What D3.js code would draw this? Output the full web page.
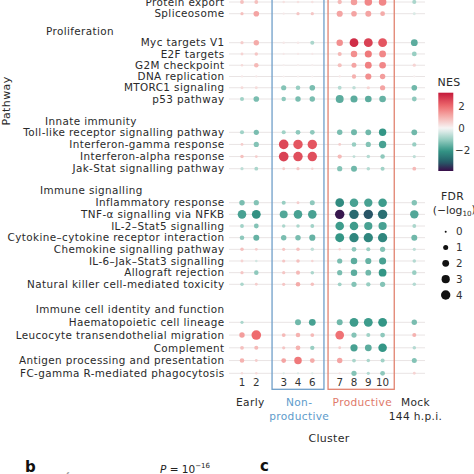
<!DOCTYPE html>
<html><head><meta charset="utf-8">
<script src="https://cdn.jsdelivr.net/npm/d3@7"></script>
<style>
body{margin:0;background:#fff;}
svg{display:block;font-family:"DejaVu Sans",sans-serif;}
</style></head><body>
<svg id="chart" width="474" height="474"></svg>
<script>
// ---------------- data ----------------
const clusters = ["1","2","3","4","6","7","8","9","10","Mock"];
const facetNames = ["Early","Non-productive","Productive","Mock"];
const facetOfCluster = ["Early","Early","Non-productive","Non-productive","Non-productive","Productive","Productive","Productive","Productive","Mock"];
const groupNames = ["", "Proliferation", "Innate immunity", "Immune signalling", "Immune cell identity and function"];
const groupPathways = [
  ["Protein export","Spliceosome"],
  ["Myc targets V1","E2F targets","G2M checkpoint","DNA replication","MTORC1 signaling","p53 pathway"],
  ["Toll-like receptor signalling pathway","Interferon-gamma response","Interferon-alpha response","Jak-Stat signalling pathway"],
  ["Inflammatory response","TNF-\u03b1 signalling via NFKB","IL-2\u2013Stat5 signalling","Cytokine\u2013cytokine receptor interaction","Chemokine signalling pathway","IL-6\u2013Jak\u2013Stat3 signalling","Allograft rejection","Natural killer cell-mediated toxicity"],
  ["Haematopoietic cell lineage","Leucocyte transendothelial migration","Complement","Antigen processing and presentation","FC-gamma R-mediated phagocytosis"]
];
// NES per pathway, one value per cluster (order of `clusters`)
const nesValues = [
  [0.8,0.8,0.3,0.3,0.3,0.9,1.3,1.6,1.6,-0.8],
  [0.8,1.2,0.2,0.7,0.7,1.2,1.2,1.2,1.1,-0.3],
  [0.6,1.1,0.2,0.2,-0.8,1.5,2.9,2.6,2.3,-1.6],
  [0.5,0.7,0.2,0.2,0.2,0.9,1.5,1.8,1.6,-1.0],
  [0.4,0.9,0.1,0.1,0.1,0.8,1.2,1.7,1.6,0.5],
  [0.2,0.2,0.1,0.1,0.1,0.2,1.0,1.5,1.3,0.1],
  [0.4,0.4,-1.2,-1.0,-1.3,-0.7,-0.6,0.5,1.2,-1.4],
  [-0.9,-1.3,-1.1,-1.3,-1.3,-1.6,-1.6,-1.6,-1.5,-1.1],
  [-0.9,-1.3,-0.9,-1.1,-1.1,-1.3,-1.4,-1.4,-2.0,-1.4],
  [0.6,-1.2,2.5,2.3,2.3,0.6,-1.0,-1.2,-1.8,-1.0],
  [0.8,0.6,2.6,2.4,2.4,0.9,-0.6,-0.7,-1.1,-0.6],
  [-0.6,-0.8,0.6,0.7,0.5,-1.2,-1.4,-0.7,-0.9,0.9],
  [-1.3,-1.2,-1.0,0.6,-1.1,-2.2,-1.8,-1.8,-1.9,-1.2],
  [-1.8,-2.1,-1.7,-1.8,-1.8,-3.7,-2.8,-3.1,-2.7,-1.7],
  [-0.9,-1.2,-0.8,-0.8,-0.9,-1.9,-1.9,-1.8,-1.8,-0.8],
  [-1.1,-1.5,-1.3,-1.3,-1.5,-2.0,-2.3,-2.3,-2.3,-1.4],
  [0.8,0.6,0.7,0.8,-0.6,0.5,-1.1,-1.0,-1.2,-0.6],
  [0.5,-0.4,0.7,0.8,0.5,-1.3,-1.6,-1.5,-1.8,-0.7],
  [0.7,-1.1,0.7,0.9,-0.8,-1.3,-1.6,-1.4,-2.0,-1.0],
  [-0.8,0.6,0.7,1.1,0.8,-0.9,-1.2,-1.0,-1.2,-0.7],
  [-0.8,null,null,-1.4,-1.8,-1.4,-1.9,-1.9,-2.0,-1.3],
  [1.3,2.0,0.9,1.0,0.9,1.9,-1.2,-0.9,-1.1,1.0],
  [0.8,0.9,0.7,1.0,-1.0,0.6,-1.8,-1.6,-2.0,-0.7],
  [1.0,0.6,1.2,1.8,1.1,1.2,-0.8,-0.8,-0.9,-1.2],
  [0.4,0.4,-0.3,-0.3,-0.3,0.3,-1.2,-0.7,-1.1,0.5]
];
// FDR (-log10) per pathway
const fdrValues = [
  [0.5,0.5,0.1,0.1,0.1,0.7,1.8,2.5,2.5,0.6],
  [0.3,1.3,0.05,0.3,0.3,1.6,1.3,1.5,0.9,0.2],
  [0.3,1.2,0.1,0.1,0.6,1.8,3.5,3.5,3.5,2.0],
  [0.2,0.4,0.05,0.05,0.05,0.6,1.8,2.2,2.0,0.9],
  [0.1,0.8,0.05,0.05,0.05,0.6,1.0,2.0,1.9,0.3],
  [0.05,0.05,0.02,0.02,0.02,0.05,0.7,1.6,1.2,0.05],
  [0.2,0.2,1.1,0.8,1.3,0.5,0.4,0.3,1.1,1.3],
  [0.6,1.3,0.8,1.2,1.2,2.8,2.2,1.9,1.9,0.9],
  [0.6,1.1,0.6,0.9,0.9,1.2,1.5,1.4,2.4,1.4],
  [0.2,1.1,4.2,4.0,4.0,0.2,0.8,1.1,2.4,0.7],
  [0.4,0.2,4.3,4.0,4.0,0.7,0.2,0.4,0.8,0.3],
  [0.3,0.5,0.2,0.3,0.1,1.1,1.5,0.4,0.6,0.5],
  [1.2,1.1,0.6,0.2,1.0,3.4,3.3,3.1,3.3,1.2],
  [3.3,3.5,2.8,3.3,3.3,4.0,4.0,4.0,4.0,3.2],
  [0.5,0.9,0.4,0.4,0.5,3.3,3.3,3.0,3.0,0.5],
  [0.8,1.5,1.2,1.2,1.6,3.6,3.9,3.9,3.9,1.5],
  [0.4,0.2,0.3,0.4,0.4,0.1,0.9,0.6,1.1,0.3],
  [0.2,0.1,0.3,0.4,0.1,1.1,1.8,1.6,2.2,0.4],
  [0.3,0.8,0.3,0.6,0.4,1.1,1.8,1.4,2.7,0.8],
  [0.4,0.2,0.3,0.8,0.4,0.5,1.1,0.7,1.1,0.4],
  [0.3,null,null,1.5,2.0,1.5,3.5,3.5,3.5,1.2],
  [1.2,4.2,0.5,0.8,0.5,3.4,1.1,0.6,0.9,0.6],
  [0.5,0.6,0.3,0.9,0.7,0.2,2.3,2.0,3.3,0.4],
  [0.8,0.2,0.9,2.5,0.9,1.2,0.5,0.4,0.6,1.0],
  [0.1,0.1,0.05,0.05,0.05,0.05,1.1,0.3,0.9,0.2]
];
const nesTicks = [2, 0, -2];
const fdrTicks = [0, 1, 2, 3, 4];

// ---------------- layout ----------------
const svg = d3.select("#chart");
const colW = 14.3;
const facetGaps = [13.1, 13.1, 17.4];
const plotLeft = 234.85;
const facetCols = facetNames.map(f => clusters.filter((c, i) => facetOfCluster[i] === f));
const facetStart = [];
let cur = plotLeft;
facetNames.forEach((f, i) => { facetStart.push(cur); cur += facetCols[i].length * colW + (facetGaps[i] || 0); });
const xFacet = facetNames.map((f, i) => d3.scaleBand().domain(facetCols[i]).range([facetStart[i], facetStart[i] + facetCols[i].length * colW]));
const xPos = (c) => { const fi = facetNames.indexOf(facetOfCluster[clusters.indexOf(c)]); return xFacet[fi](c) + xFacet[fi].bandwidth() / 2; };

const groupRange = [[2, 13.7], [42.7, 99], [132.3, 168.7], [202.7, 284.3], [322.3, 373.3]];
const yGroup = groupPathways.map((p, i) => d3.scalePoint().domain(p).range(groupRange[i]));

const color = d3.scaleLinear()
  .domain([-3.8, -3.0, -2.0, -1.0, 0, 1.0, 2.0, 3.2])
  .range(["#3a0d4a", "#255f6a", "#349686", "#98cec2", "#f6f6f6", "#f5b2b0", "#ee6b6e", "#c4183a"])
  .clamp(true);
const area = d3.scaleLinear().domain([0, 4]).range([1.0, 22.1]);
const rSize = v => Math.sqrt(Math.max(0.3, area(v)));

const lineX0 = 229, lineX1 = 425;
const labelFont = 10.4, labelSpacing = 0.4;

// row lines
groupPathways.forEach((paths, gi) => {
  paths.forEach(p => {
    svg.append("line").attr("x1", lineX0).attr("x2", lineX1)
      .attr("y1", yGroup[gi](p)).attr("y2", yGroup[gi](p))
      .attr("stroke", "#e9e4e4").attr("stroke-width", 1);
  });
});

// boxes around Non-productive and Productive
const boxColor = {"Non-productive": "#6f9fc9", "Productive": "#e2826f"};
["Non-productive", "Productive"].forEach(f => {
  const fi = facetNames.indexOf(f);
  const r = xFacet[fi].range();
  svg.append("rect").attr("x", r[0] - 4.5).attr("y", -5)
    .attr("width", r[1] - r[0] + 9).attr("height", 389.3 + 5)
    .attr("fill", "none").attr("stroke", boxColor[f]).attr("stroke-width", 1.3);
});

// dots
let rowIdx = 0;
groupPathways.forEach((paths, gi) => {
  paths.forEach(p => {
    const nr = nesValues[rowIdx], fr = fdrValues[rowIdx];
    clusters.forEach((c, ci) => {
      if (nr[ci] === null) return;
      svg.append("circle").attr("cx", xPos(c)).attr("cy", yGroup[gi](p))
        .attr("r", rSize(fr[ci])).attr("fill", color(nr[ci]));
    });
    rowIdx++;
  });
});

// y labels
const labelX = 224.5;
groupPathways.forEach((paths, gi) => {
  paths.forEach(p => {
    svg.append("text").attr("x", labelX).attr("y", yGroup[gi](p)).attr("dy", "0.36em")
      .attr("text-anchor", "end").attr("font-size", labelFont).attr("letter-spacing", labelSpacing)
      .attr("fill", "#2a2a2a").text(p);
  });
});
// group headers
const headerPos = [null, {x: 46, a: "start"}, {x: 45, a: "start"}, {x: 40, a: "start"}, {x: 224.5, a: "end"}];
const headerOffset = [0, 11.7, 11.3, 12.7, 13.3];
groupNames.forEach((g, gi) => {
  if (!g) return;
  svg.append("text").attr("x", headerPos[gi].x).attr("y", groupRange[gi][0] - headerOffset[gi]).attr("dy", "0.36em")
    .attr("text-anchor", headerPos[gi].a).attr("font-size", labelFont).attr("letter-spacing", labelSpacing)
    .attr("fill", "#2a2a2a").text(g);
});
// y title
svg.append("text").attr("transform", "translate(10,101) rotate(-90)").attr("text-anchor", "middle")
  .attr("font-size", 11).attr("letter-spacing", 0.4).attr("fill", "#2a2a2a").text("Pathway");

// cluster numbers
clusters.forEach(c => {
  if (c === "Mock") return;
  svg.append("text").attr("x", xPos(c)).attr("y", 382.7).attr("dy", "0.36em")
    .attr("text-anchor", "middle").attr("font-size", 10.3).attr("fill", "#333").text(c);
});
// facet labels
const facetLabel = {"Early": ["Early"], "Non-productive": ["Non-", "productive"], "Productive": ["Productive"], "Mock": ["Mock", "144 h.p.i."]};
const facetColor = {"Early": "#2a2a2a", "Non-productive": "#5d9bcb", "Productive": "#e0796a", "Mock": "#2a2a2a"};
facetNames.forEach((f, fi) => {
  const r = xFacet[fi].range();
  const cx = (r[0] + r[1]) / 2 + 1.2;
  facetLabel[f].forEach((t, li) => {
    svg.append("text").attr("x", cx).attr("y", 401.7 + li * 14.6).attr("dy", "0.36em")
      .attr("text-anchor", "middle").attr("font-size", 10.6).attr("letter-spacing", 0.35)
      .attr("fill", facetColor[f]).text(t);
  });
});
svg.append("text").attr("x", 329).attr("y", 437.7).attr("dy", "0.36em").attr("text-anchor", "middle")
  .attr("font-size", 11).attr("letter-spacing", 0.3).attr("fill", "#2a2a2a").text("Cluster");

// NES legend
const legX = 438.3, barW = 15, barTop = 92.7, barBot = 171;
const nesLeg = d3.scaleLinear().domain([3.19, -3.82]).range([barTop, barBot]);
const defs = svg.append("defs");
const grad = defs.append("linearGradient").attr("id", "nesg").attr("x1", 0).attr("y1", 0).attr("x2", 0).attr("y2", 1);
d3.range(0, 1.0001, 0.05).forEach(t => {
  const v = nesLeg.invert(barTop + t * (barBot - barTop));
  grad.append("stop").attr("offset", t).attr("stop-color", color(v));
});
svg.append("rect").attr("x", legX).attr("y", barTop).attr("width", barW).attr("height", barBot - barTop).attr("fill", "url(#nesg)");
svg.append("text").attr("x", 449).attr("y", 81.7).attr("dy", "0.36em").attr("text-anchor", "middle")
  .attr("font-size", 11).attr("letter-spacing", 0.3).attr("fill", "#2a2a2a").text("NES");
nesTicks.forEach(t => {
  svg.append("text").attr("x", t < 0 ? 455 : 458.3).attr("y", nesLeg(t)).attr("dy", "0.36em")
    .attr("font-size", 10.3).attr("fill", "#333").text(t < 0 ? "\u2212" + Math.abs(t) : t);
});

// FDR legend
svg.append("text").attr("x", 452.5).attr("y", 196).attr("dy", "0.36em").attr("text-anchor", "middle")
  .attr("font-size", 10.8).attr("letter-spacing", 0.3).attr("fill", "#2a2a2a").text("FDR");
const ft = svg.append("text").attr("x", 432.7).attr("y", 210).attr("dy", "0.36em")
  .attr("font-size", 10.8).attr("fill", "#2a2a2a");
ft.append("tspan").text("(\u2212log");
ft.append("tspan").attr("font-size", 7.2).attr("dy", "0.3em").text("10");
ft.append("tspan").attr("dy", "-0.3em").text(")");
const fdrLeg = d3.scalePoint().domain(fdrTicks).range([231.7, 295]);
fdrTicks.forEach(t => {
  svg.append("circle").attr("cx", 445.7).attr("cy", fdrLeg(t)).attr("r", rSize(t)).attr("fill", "#111");
  svg.append("text").attr("x", 456).attr("y", fdrLeg(t)).attr("dy", "0.36em")
    .attr("font-size", 10.3).attr("fill", "#333").text(t);
});

// bottom panel fragments
svg.append("text").attr("x", 25).attr("y", 471.5).attr("font-size", 15).attr("font-weight", "bold").attr("fill", "#111").text("b");
svg.append("text").attr("x", 260).attr("y", 471).attr("font-size", 15).attr("font-weight", "bold").attr("fill", "#111").text("c");
const pt = svg.append("text").attr("x", 160).attr("y", 472.5).attr("font-size", 10.5).attr("fill", "#222");
pt.append("tspan").attr("font-style", "italic").text("P");
pt.append("tspan").text(" = 10");
pt.append("tspan").attr("font-size", 7).attr("dy", "-0.6em").text("\u221216");
svg.append("text").attr("x", 66.5).attr("y", 476).attr("font-size", 5).attr("fill", "#555").text("6");
</script>
</body></html>
